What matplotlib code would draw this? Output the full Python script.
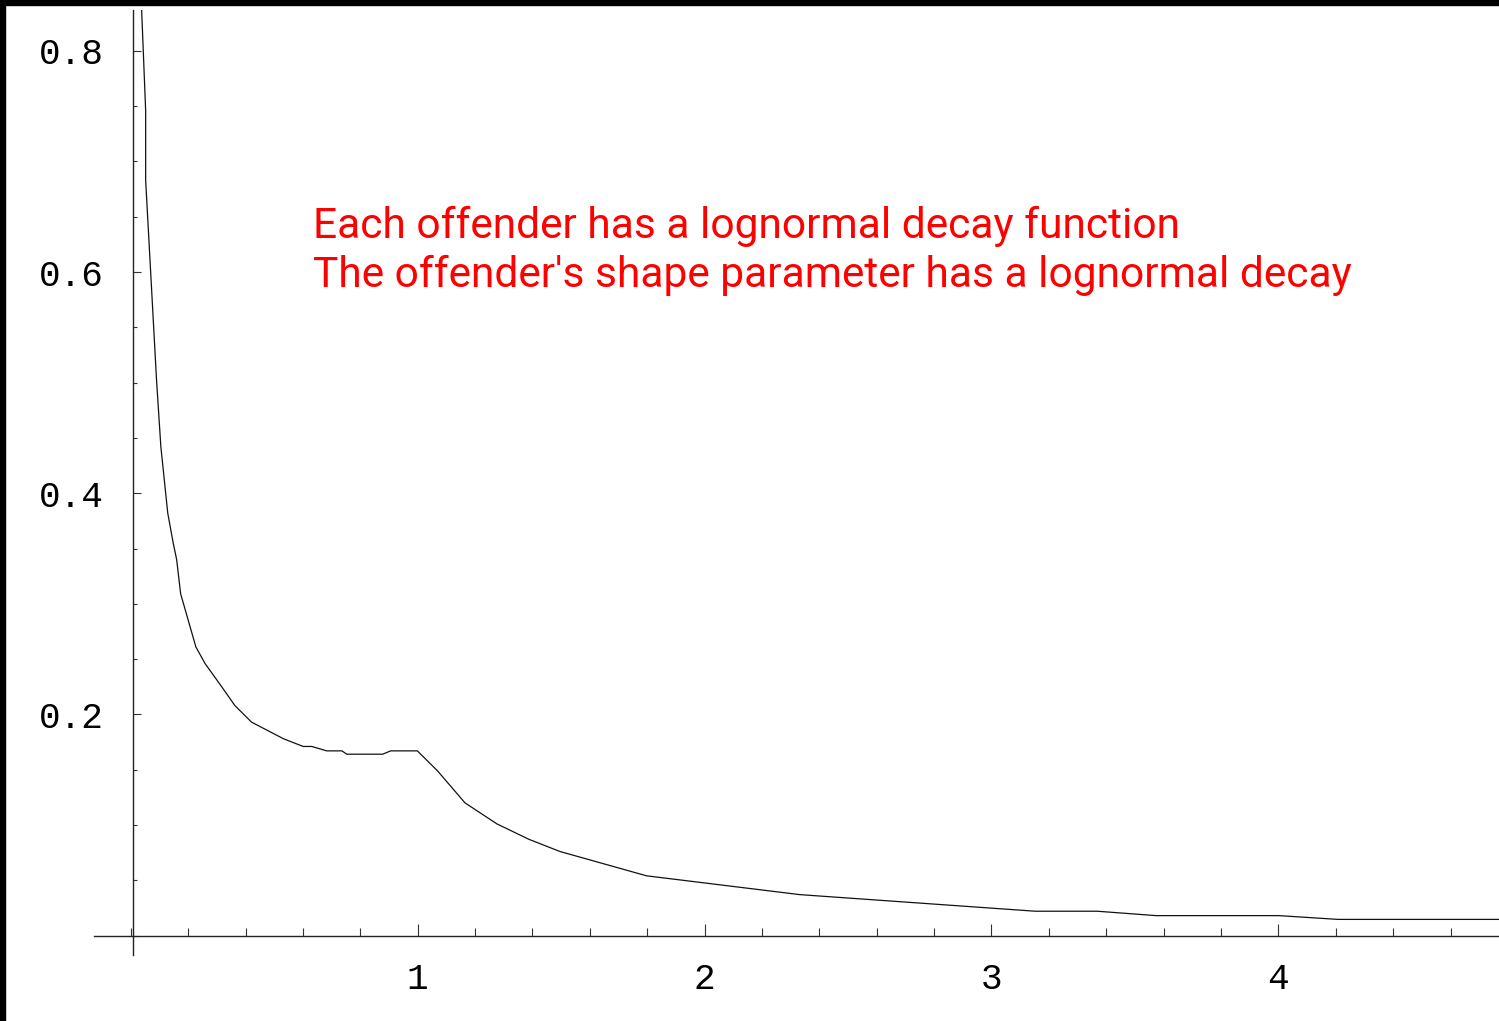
import matplotlib
matplotlib.use("Agg")

import matplotlib.pyplot as plt
from matplotlib.patches import Rectangle
from matplotlib.ticker import MultipleLocator, FixedLocator

# probability of reoffending vs. time since last offence
years = [0.038, 0.052, 0.052, 0.090, 0.105, 0.129, 0.148, 0.160, 0.174, 0.227,
         0.259, 0.317, 0.363, 0.421, 0.532, 0.601, 0.631, 0.683, 0.736, 0.753,
         0.878, 0.906, 0.999, 1.069, 1.165, 1.276, 1.388, 1.496, 1.798, 2.332,
         3.152, 3.368, 3.574, 4.002, 4.208, 4.850]
hazard = [0.837, 0.746, 0.683, 0.502, 0.442, 0.382, 0.355, 0.340, 0.309, 0.261,
          0.246, 0.225, 0.208, 0.193, 0.178, 0.171, 0.171, 0.167, 0.167, 0.164,
          0.164, 0.167, 0.167, 0.149, 0.120, 0.101, 0.087, 0.076, 0.054, 0.037,
          0.022, 0.022, 0.018, 0.018, 0.0146, 0.0146]

x_major = [1, 2, 3, 4]
y_major = [0.2, 0.4, 0.6, 0.8]
y_labels = ["0.2", "0.4", "0.6", "0.8"]

notes = ["Each offender has a lognormal decay function",
         "The offender's shape parameter has a lognormal decay"]

W, H = 1499, 1021
fig = plt.figure(figsize=(W / 100, H / 100), dpi=100)
fig.patch.set_facecolor("white")

# axes frame placed so the plot range fills the page like the notebook export
left_px, right_px, top_px, bottom_px = 94.3, 1499, 10, 955
ax = fig.add_axes([left_px / W, 1 - bottom_px / H,
                   (right_px - left_px) / W, (bottom_px - top_px) / H])
ax.set_xlim(-0.127, 4.769)
ax.set_ylim(-0.0176, 0.837)
ax.set_facecolor("white")

ax.plot(years, hazard, color="#111111", lw=0.9, solid_joinstyle="miter", zorder=3)

# Mathematica-style crossing axes
for side in ("top", "right"):
    ax.spines[side].set_visible(False)
ax.spines["left"].set_position(("data", 0.0087))
ax.spines["bottom"].set_position(("data", 0.0))
for side in ("left", "bottom"):
    ax.spines[side].set_linewidth(1.0)
    ax.spines[side].set_color("#222222")

ax.xaxis.set_major_locator(FixedLocator(x_major))
ax.xaxis.set_minor_locator(MultipleLocator(0.2))
ax.yaxis.set_major_locator(FixedLocator(y_major))
ax.yaxis.set_minor_locator(MultipleLocator(0.05))
ax.set_xticklabels([str(v) for v in x_major])
ax.set_yticklabels(y_labels)

ax.tick_params(axis="x", which="major", direction="in", length=8.6, width=0.8,
               color="#333333", pad=19)
ax.tick_params(axis="x", which="minor", direction="in", length=6, width=0.8,
               color="#333333")
ax.tick_params(axis="y", which="major", direction="in", length=6, width=0.8,
               color="#333333", pad=21)
ax.tick_params(axis="y", which="minor", direction="in", length=3.1, width=0.8,
               color="#333333")
for lab in ax.get_xticklabels() + ax.get_yticklabels():
    lab.set_fontfamily("Liberation Mono")
    lab.set_fontsize(26)
    lab.set_color("black")

# annotation lines
note_x = 0.635
note_font = ["Roboto", "DejaVu Sans"]
ax.text(note_x, (935.5 - 238) / 1106, notes[0], color="red", fontsize=30.6,
        family=note_font, va="baseline", ha="left")
ax.text(note_x, (935.5 - 287) / 1106, notes[1], color="red", fontsize=30.6,
        family=note_font, va="baseline", ha="left")

# black frame along the top and left edges
fig.add_artist(Rectangle((0, 1 - 5 / H), 1, 5 / H, transform=fig.transFigure,
                         color="black", zorder=10))
fig.add_artist(Rectangle((0, 0), 5 / W, 1, transform=fig.transFigure,
                         color="black", zorder=10))

fig.savefig("out.png", dpi=100, facecolor="white")
